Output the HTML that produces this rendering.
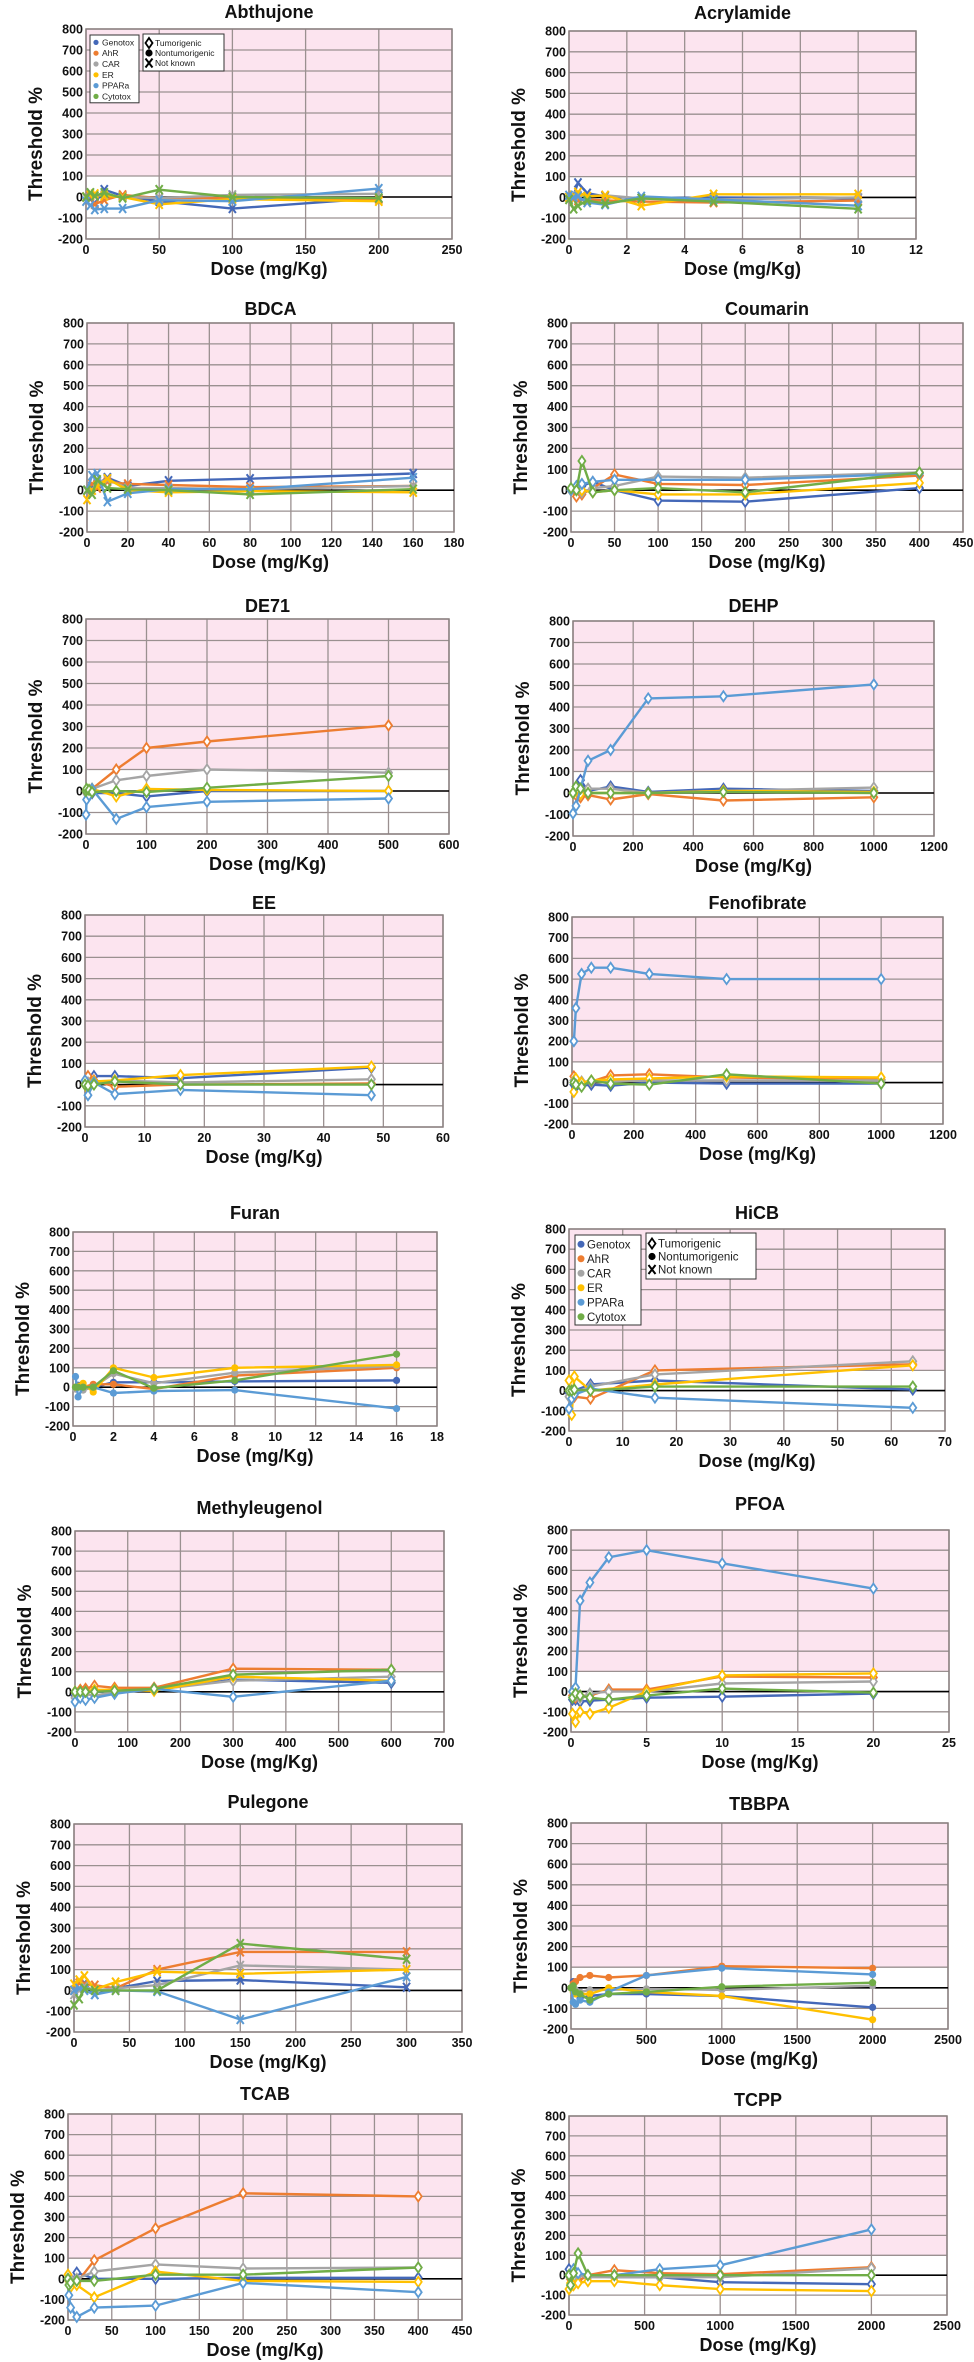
<!DOCTYPE html>
<html><head><meta charset="utf-8"><style>
html,body{margin:0;padding:0;background:#fff;}
svg{display:block;font-family:"Liberation Sans",Arial,sans-serif;}
</style></head><body>
<svg id="fig" width="974" height="2362" viewBox="0 0 974 2362" xmlns="http://www.w3.org/2000/svg"></svg>
<script>
const yTicks=[-200,-100,0,100,200,300,400,500,600,700,800];
const seriesNames=["Genotox","AhR","CAR","ER","PPARa","Cytotox"];
const seriesColors=["#4468b8","#ed7d31","#a5a5a5","#ffc000","#5b9bd5","#70ad47"];

const abthDose=[0,3,6,12.5,25,50,100,200];
const abthGeno=[0,-10,-30,35,5,-20,-55,-5];
const abthAhR=[0,5,-35,-15,10,-5,-5,-10];
const abthCAR=[0,10,5,10,0,-5,10,15];
const abthER=[0,10,15,5,0,-35,-10,-20];
const abthPPAR=[-20,-40,-60,-55,-55,-15,-20,40];
const abthCyto=[0,20,5,20,-5,35,0,-5];

const acryDose=[0,0.16,0.31,0.63,1.25,2.5,5,10];
const acryGeno=[0,10,70,20,5,-5,0,-5];
const acryAhR=[0,-10,-15,-10,-15,-20,-25,-15];
const acryCAR=[0,5,10,5,10,-5,-10,0];
const acryER=[0,10,25,5,10,-40,15,15];
const acryPPAR=[10,0,5,-25,-35,5,-10,-40];
const acryCyto=[-10,-55,-40,-15,-30,-5,-20,-55];

const bdcaDose=[0,2.5,5,10,20,40,80,160];
const bdcaGeno=[0,20,30,60,20,45,55,80];
const bdcaAhR=[0,30,10,40,30,25,15,20];
const bdcaCAR=[0,0,40,50,10,10,5,20];
const bdcaER=[-45,0,20,55,0,-10,-5,-10];
const bdcaPPAR=[0,70,80,-55,-15,5,5,60];
const bdcaCyto=[0,-20,50,10,5,0,-20,5];

const coumDose=[0,6.25,12.5,25,50,100,200,400];
const coumGeno=[0,0,20,40,0,-50,-55,10];
const coumAhR=[0,-30,-20,10,75,30,25,70];
const coumCAR=[0,10,-10,10,20,65,60,85];
const coumER=[0,0,0,-10,0,-20,-20,35];
const coumPPAR=[0,20,30,40,50,50,50,80];
const coumCyto=[10,0,140,-10,0,10,-10,85];

const de71Dose=[0,1,5,10,50,100,200,500];
const de71Geno=[0,-10,-5,-10,-10,-25,0,0];
const de71AhR=[0,0,-5,10,100,200,230,305];
const de71CAR=[0,-10,0,10,50,70,100,85];
const de71ER=[0,0,5,10,-25,10,5,0];
const de71PPAR=[-110,-40,-20,10,-130,-75,-50,-35];
const de71Cyto=[0,10,5,-5,0,-5,15,70];

const dehpDose=[0,10,25,50,125,250,500,1000];
const dehpGeno=[0,20,60,10,30,5,20,10];
const dehpAhR=[0,-10,-20,-10,-30,-5,-35,-20];
const dehpCAR=[0,15,10,20,20,0,10,25];
const dehpER=[0,10,-5,0,0,0,10,5];
const dehpPPAR=[-95,-60,20,150,200,440,450,505];
const dehpCyto=[0,30,20,0,0,0,5,0];

const eeDose=[0,0.5,1.5,5,16,48];
const eeGeno=[0,10,40,40,30,80];
const eeAhR=[0,40,20,-10,0,5];
const eeCAR=[0,10,10,20,10,25];
const eeER=[0,-20,15,20,45,85];
const eePPAR=[20,-50,10,-45,-25,-50];
const eeCyto=[0,-5,0,15,0,0];

const fenoDose=[6,12.5,31,62.5,125,250,500,1000];
const fenoGeno=[-10,-20,-15,-10,-15,0,-5,-5];
const fenoAhR=[30,10,0,5,35,40,25,15];
const fenoCAR=[10,0,5,5,5,10,10,10];
const fenoER=[-45,20,0,10,15,20,30,25];
const fenoPPAR=[200,360,525,555,555,525,500,500];
const fenoCyto=[0,-10,-20,10,-5,-10,40,-5];

const furDose=[0.125,0.25,0.5,1,2,4,8,16];
const furGeno=[0,10,0,0,25,25,30,35];
const furAhR=[0,0,0,15,15,-10,60,100];
const furCAR=[-10,0,-15,0,70,20,75,110];
const furER=[0,5,20,-25,100,50,100,115];
const furPPAR=[55,-50,0,0,-30,-20,-15,-110];
const furCyto=[0,0,0,0,85,-5,35,170];

const hicbDose=[0,0.5,1,4,16,64];
const hicbGeno=[-10,-20,0,30,50,5];
const hicbAhR=[0,-20,-30,-40,100,130];
const hicbCAR=[-30,-20,-10,20,80,145];
const hicbER=[50,-120,70,0,30,125];
const hicbPPAR=[-90,-40,-20,10,-35,-85];
const hicbCyto=[0,0,5,0,20,20];

const meDose=[0,10,20,37,75,150,300,600];
const meGeno=[-20,-10,0,0,0,10,60,45];
const meAhR=[0,10,15,30,20,20,115,110];
const meCAR=[-30,-10,-10,-20,0,10,55,75];
const meER=[0,0,0,10,10,5,75,55];
const mePPAR=[-50,-30,-40,-30,-10,15,-25,55];
const meCyto=[0,0,0,0,5,15,85,110];

const pfoaDose=[0.1,0.3,0.6,1.25,2.5,5,10,20];
const pfoaGeno=[-40,-40,-50,-45,-40,-30,-25,-10];
const pfoaAhR=[-20,-30,-20,-20,10,10,75,70];
const pfoaCAR=[0,-20,-30,-10,0,0,40,50];
const pfoaER=[-110,-150,-100,-110,-80,0,80,90];
const pfoaPPAR=[0,20,450,540,665,700,635,510];
const pfoaCyto=[-30,-10,-20,-30,-40,-20,15,-5];

const pulDose=[0,4.7,9.4,18.75,37.5,75,150,300];
const pulGeno=[0,10,35,-20,10,45,50,15];
const pulAhR=[0,35,30,25,10,100,185,185];
const pulCAR=[-20,0,20,0,10,25,120,100];
const pulER=[30,50,70,5,40,90,80,100];
const pulPPAR=[0,10,0,-20,0,-5,-140,65];
const pulCyto=[-70,-40,10,0,0,0,225,150];

const tbDose=[0,15,30,60,125,250,500,1000,2000];
const tbGeno=[0,30,-10,-50,-40,-30,-30,-40,-95];
const tbAhR=[0,20,30,50,60,50,60,105,95];
const tbCAR=[0,-10,-10,-20,-10,-10,-5,-10,10];
const tbER=[0,-20,-30,-30,-30,0,-20,-40,-155];
const tbPPAR=[0,-70,-80,-60,-70,-20,60,95,65];
const tbCyto=[0,10,-20,-30,-60,-30,-20,5,25];

const tcabDose=[0,1,3,10,30,100,200,400];
const tcabGeno=[0,-10,-20,30,0,0,5,5];
const tcabAhR=[0,-10,0,-20,90,245,415,400];
const tcabCAR=[0,-10,0,0,35,70,50,55];
const tcabER=[20,-10,-40,-30,-90,35,-10,-15];
const tcabPPAR=[0,-80,-140,-185,-140,-130,-20,-65];
const tcabCyto=[0,-30,-20,-10,-10,20,20,55];

const tcppDose=[0,10,30,60,125,300,600,1000,2000];
const tcppGeno=[30,0,20,0,-5,-10,-10,-35,-45];
const tcppAhR=[0,-20,-20,-30,0,25,10,5,40];
const tcppCAR=[0,0,-10,0,-10,-10,-10,-10,35];
const tcppER=[-70,-40,-50,-40,-30,-30,-50,-70,-80];
const tcppPPAR=[0,-50,30,10,0,0,30,50,230];
const tcppCyto=[0,-50,10,110,0,0,0,0,0];

const charts=[
 {id:"abthujone",title:"Abthujone",L:86,R:452,T:29,B:239,xmax:250,xstep:50,ty:11,mk:"x",legend:1,dose:abthDose,s:[abthGeno,abthAhR,abthCAR,abthER,abthPPAR,abthCyto]},
 {id:"acrylamide",title:"Acrylamide",L:569,R:916,T:31,B:239,xmax:12,xstep:2,ty:12,mk:"x",dose:acryDose,s:[acryGeno,acryAhR,acryCAR,acryER,acryPPAR,acryCyto]},
 {id:"bdca",title:"BDCA",L:87,R:454,T:323,B:532,xmax:180,xstep:20,ty:308,mk:"x",dose:bdcaDose,s:[bdcaGeno,bdcaAhR,bdcaCAR,bdcaER,bdcaPPAR,bdcaCyto]},
 {id:"coumarin",title:"Coumarin",L:571,R:963,T:323,B:532,xmax:450,xstep:50,ty:308,mk:"d",dose:coumDose,s:[coumGeno,coumAhR,coumCAR,coumER,coumPPAR,coumCyto]},
 {id:"de71",title:"DE71",L:86,R:449,T:619,B:834,xmax:600,xstep:100,ty:605,mk:"d",dose:de71Dose,s:[de71Geno,de71AhR,de71CAR,de71ER,de71PPAR,de71Cyto]},
 {id:"dehp",title:"DEHP",L:573,R:934,T:621,B:836,xmax:1200,xstep:200,ty:605,mk:"d",dose:dehpDose,s:[dehpGeno,dehpAhR,dehpCAR,dehpER,dehpPPAR,dehpCyto]},
 {id:"ee",title:"EE",L:85,R:443,T:915,B:1127,xmax:60,xstep:10,ty:902,mk:"d",dose:eeDose,s:[eeGeno,eeAhR,eeCAR,eeER,eePPAR,eeCyto]},
 {id:"fenofibrate",title:"Fenofibrate",L:572,R:943,T:917,B:1124,xmax:1200,xstep:200,ty:902,mk:"d",dose:fenoDose,s:[fenoGeno,fenoAhR,fenoCAR,fenoER,fenoPPAR,fenoCyto]},
 {id:"furan",title:"Furan",L:73,R:437,T:1232,B:1426,xmax:18,xstep:2,ty:1212,mk:"o",dose:furDose,s:[furGeno,furAhR,furCAR,furER,furPPAR,furCyto]},
 {id:"hicb",title:"HiCB",L:569,R:945,T:1229,B:1431,xmax:70,xstep:10,ty:1212,mk:"d",legend:2,dose:hicbDose,s:[hicbGeno,hicbAhR,hicbCAR,hicbER,hicbPPAR,hicbCyto]},
 {id:"methyleugenol",title:"Methyleugenol",L:75,R:444,T:1531,B:1732,xmax:700,xstep:100,ty:1507,mk:"d",dose:meDose,s:[meGeno,meAhR,meCAR,meER,mePPAR,meCyto]},
 {id:"pfoa",title:"PFOA",L:571,R:949,T:1530,B:1732,xmax:25,xstep:5,ty:1503,mk:"d",dose:pfoaDose,s:[pfoaGeno,pfoaAhR,pfoaCAR,pfoaER,pfoaPPAR,pfoaCyto]},
 {id:"pulegone",title:"Pulegone",L:74,R:462,T:1824,B:2032,xmax:350,xstep:50,ty:1801,mk:"x",dose:pulDose,s:[pulGeno,pulAhR,pulCAR,pulER,pulPPAR,pulCyto]},
 {id:"tbbpa",title:"TBBPA",L:571,R:948,T:1823,B:2029,xmax:2500,xstep:500,ty:1803,mk:"o",dose:tbDose,s:[tbGeno,tbAhR,tbCAR,tbER,tbPPAR,tbCyto]},
 {id:"tcab",title:"TCAB",L:68,R:462,T:2114,B:2320,xmax:450,xstep:50,ty:2093,mk:"d",dose:tcabDose,s:[tcabGeno,tcabAhR,tcabCAR,tcabER,tcabPPAR,tcabCyto]},
 {id:"tcpp",title:"TCPP",L:569,R:947,T:2116,B:2315,xmax:2500,xstep:500,ty:2099,mk:"d",dose:tcppDose,s:[tcppGeno,tcppAhR,tcppCAR,tcppER,tcppPPAR,tcppCyto]}
];

const NS="http://www.w3.org/2000/svg";
const svg=document.getElementById("fig");
function mk(tag,attrs,parent){const e=document.createElementNS(NS,tag);for(const k in attrs)e.setAttribute(k,attrs[k]);(parent||svg).appendChild(e);return e;}
function txt(str,attrs,parent){const e=mk("text",attrs,parent);e.textContent=str;return e;}

function marker(g,type,x,y,c){
  let m;
  if(type==="d"){m=mk("path",{d:`M${x} ${y-5}L${x+3.5} ${y}L${x} ${y+5}L${x-3.5} ${y}Z`,fill:"#fff",stroke:c,"stroke-width":1.8},g);}
  else if(type==="o"){m=mk("circle",{cx:x,cy:y,r:3.6,fill:c},g);}
  else {m=mk("path",{d:`M${x-3.5} ${y-4.5}L${x+3.5} ${y+4.5}M${x+3.5} ${y-4.5}L${x-3.5} ${y+4.5}`,stroke:c,"stroke-width":2,fill:"none"},g);}
  return m;
}

charts.forEach(ch=>{
  const g=mk("g",{});
  
  
  const xs=v=>ch.L+(v/ch.xmax)*(ch.R-ch.L);
  const ys=v=>ch.B-((v+200)/1000)*(ch.B-ch.T);
  const pink=mk("rect",{x:ch.L,y:ys(800),width:ch.R-ch.L,height:ys(100)-ys(800),fill:"#fce4ef"},g);
  
  
  // grid
  yTicks.forEach(t=>{
    mk("line",{x1:ch.L,x2:ch.R,y1:ys(t),y2:ys(t),stroke:"#9a9090","stroke-width":1.3},g);
    const lb=txt(String(t),{x:ch.L-3,y:ys(t)+4.5,"text-anchor":"end","font-size":12.5,"font-weight":"bold",fill:"#111"},g);
    
    
  });
  for(let v=0;v<=ch.xmax+1e-9;v+=ch.xstep){
    mk("line",{x1:xs(v),x2:xs(v),y1:ch.T,y2:ch.B,stroke:"#9a9090","stroke-width":1.3},g);
    const lb=txt(String(+v.toFixed(2)),{x:xs(v),y:ch.B+15,"text-anchor":"middle","font-size":12.5,"font-weight":"bold",fill:"#111"},g);
    
    
  }
  mk("rect",{x:ch.L,y:ch.T,width:ch.R-ch.L,height:ch.B-ch.T,fill:"none",stroke:"#8a8080","stroke-width":1.5},g);
  mk("line",{x1:ch.L,x2:ch.R,y1:ys(0),y2:ys(0),stroke:"#000","stroke-width":1.6},g);
  // title & axis labels
  const t=txt(ch.title,{x:(ch.L+ch.R)/2,y:ch.ty+7,"text-anchor":"middle","font-size":18,"font-weight":"bold",fill:"#111"},g);
  
  
  const xl=txt("Dose (mg/Kg)",{x:(ch.L+ch.R)/2,y:ch.B+36,"text-anchor":"middle","font-size":18,"font-weight":"bold",fill:"#111"},g);
  
  
  const yx=ch.L-44, yy=(ch.T+ch.B)/2+10;
  const yl=txt("Threshold %",{x:yx,y:yy,"text-anchor":"middle","font-size":19,"font-weight":"bold",fill:"#111",transform:`rotate(-90 ${yx} ${yy})`},g);
  
  
  // series
  ch.s.forEach((vals,i)=>{
    const sg=mk("g",{},g);
    
    
    const pts=vals.map((v,j)=>xs(ch.dose[j]).toFixed(1)+","+ys(v).toFixed(1)).join(" ");
    const pl=mk("polyline",{points:pts,fill:"none",stroke:seriesColors[i],"stroke-width":2.4,"stroke-linejoin":"round"},sg);
    
    
    vals.forEach((v,j)=>{
      const m=marker(sg,ch.mk,xs(ch.dose[j]),ys(v),seriesColors[i]);
      
      
    });
  });
  // legends
  if(ch.legend){
    const big=ch.legend===2;
    const bx=big?575:90, by=big?1235:35, bw=big?66:49, lh=big?14.5:10.8, fs=big?11.5:8.5;
    const lg=mk("g",{},g);
    
    
    mk("rect",{x:bx,y:by,width:bw,height:lh*6+3,fill:"#fff",stroke:"#333","stroke-width":1},lg);
    seriesNames.forEach((n,i)=>{
      const ey=by+lh*(i+0.5)+2;
      const e=mk("g",{},lg);
      
      
      mk("circle",{cx:bx+6,cy:ey,r:big?3.5:2.6,fill:seriesColors[i]},e);
      txt(n,{x:bx+12,y:ey+fs*0.35,"font-size":fs,fill:"#222"},e);
    });
    const b2x=big?646:143, b2y=big?1233:34, b2w=big?110:81, lh2=big?13:10, fs2=big?11.5:8.5;
    const lg2=mk("g",{},g);
    
    
    mk("rect",{x:b2x,y:b2y,width:b2w,height:lh2*3+7,fill:"#fff",stroke:"#333","stroke-width":1},lg2);
    const names=["Tumorigenic","Nontumorigenic","Not known"], types=["d","o","x"];
    names.forEach((n,i)=>{
      const ey=b2y+lh2*(i+0.5)+4;
      const e=mk("g",{},lg2);
      
      
      marker(e,types[i],b2x+6,ey,"#000");
      txt(n,{x:b2x+12,y:ey+fs2*0.35,"font-size":fs2,fill:"#222"},e);
    });
  }
});
</script>
</body></html>
